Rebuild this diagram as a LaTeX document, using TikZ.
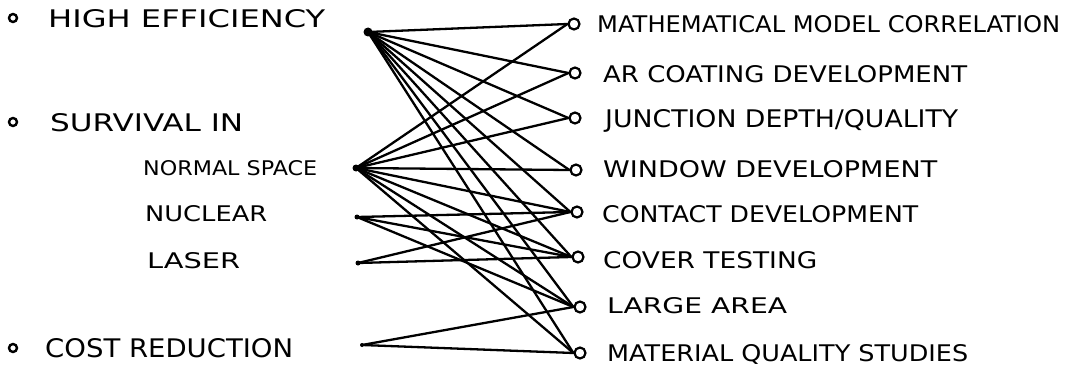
\documentclass[tikz,border=0pt]{standalone}
\usepackage{fontspec}
\setmainfont{DejaVu Sans}
\newcommand{\lab}[3]{\resizebox{#1pt}{#2pt}{#3}}
\tikzset{
  lbl/.style={inner sep=0pt, anchor=base west},
  bul/.style={circle, draw, line width=2.4pt, minimum size=8pt, inner sep=0pt},
  tgt/.style={circle, draw, line width=2.2pt, minimum size=11pt, inner sep=0pt},
  link/.style={line width=2.3pt, line cap=round},
  hub/.style={circle, fill, inner sep=0pt, minimum size=#1},
}
\begin{document}
\begin{tikzpicture}[x=1pt,y=-1pt]
\useasboundingbox (0,0) rectangle (1071,369);
% left bullets and labels
\node[bul] (b1) at (13,18) {};
\node[lbl] (l1) at (48,28) {\lab{277}{18}{HIGH EFFICIENCY}};
\node[bul] (b2) at (13,122) {};
\node[lbl] (l2) at (50,131) {\lab{193}{18}{SURVIVAL IN}};
\node[lbl] (l3) at (143,175) {\lab{174}{15}{NORMAL SPACE}};
\node[lbl] (l4) at (145,221) {\lab{122}{16}{NUCLEAR}};
\node[lbl] (l5) at (147,268) {\lab{93}{16}{LASER}};
\node[bul] (b3) at (13,348) {};
\node[lbl] (l6) at (45,357) {\lab{248}{19}{COST REDUCTION}};
% source points
\node[hub=9pt] (HE) at (368,32) {};
\node[hub=7pt] (NS) at (356,168) {};
\node[hub=5pt] (NU) at (357,217) {};
\node[hub=5pt] (LA) at (358,263) {};
\node[hub=4pt] (CR) at (362,345) {};
% targets
\node[tgt] (T1) at (574,24) {};
\node[tgt] (T2) at (575,73) {};
\node[tgt] (T3) at (575,118) {};
\node[tgt] (T4) at (576,170) {};
\node[tgt] (T5) at (577,212) {};
\node[tgt] (T6) at (578,257) {};
\node[tgt] (T7) at (580,307) {};
\node[tgt] (T8) at (580,353) {};
\node[lbl] (r1) at (597,33) {\lab{463}{17}{MATHEMATICAL MODEL CORRELATION}};
\node[lbl] (r2) at (603,82) {\lab{364}{17}{AR COATING DEVELOPMENT}};
\node[lbl] (r3) at (605,127) {\lab{353}{18}{JUNCTION DEPTH/QUALITY}};
\node[lbl] (r4) at (603,177) {\lab{334}{17}{WINDOW DEVELOPMENT}};
\node[lbl] (r5) at (602,222) {\lab{316}{17}{CONTACT DEVELOPMENT}};
\node[lbl] (r6) at (603,268) {\lab{214}{17}{COVER TESTING}};
\node[lbl] (r7) at (607,313) {\lab{180}{16}{LARGE AREA}};
\node[lbl] (r8) at (607,361) {\lab{361}{17}{MATERIAL QUALITY STUDIES}};
% connectors
\foreach \t in {T1,T2,T3,T4,T5,T6,T7,T8}
  \draw[link] (HE.center) -- (\t.west);
\foreach \t in {T1,T2,T3,T4,T5,T6,T7,T8}
  \draw[link] (NS.center) -- (\t.west);
\foreach \t in {T5,T6,T7}
  \draw[link] (NU.center) -- (\t.west);
\foreach \t in {T5,T6}
  \draw[link] (LA.center) -- (\t.west);
\foreach \t in {T7,T8}
  \draw[link] (CR.center) -- (\t.west);
\end{tikzpicture}
\end{document}
